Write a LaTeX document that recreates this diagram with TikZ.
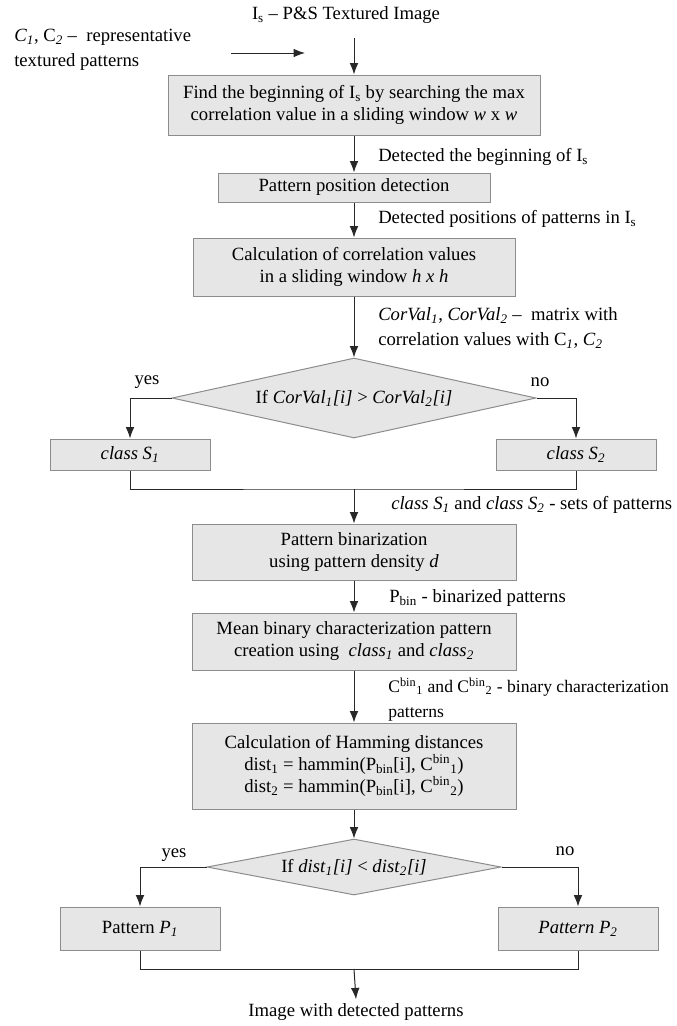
\documentclass[tikz,border=0pt]{standalone}
\usepackage{fontspec}
\setmainfont{Liberation Serif}
\usetikzlibrary{shapes.geometric,arrows.meta}
\definecolor{boxfill}{RGB}{230,230,230}
\definecolor{boxline}{RGB}{140,140,140}
\definecolor{connc}{RGB}{40,40,40}
\begin{document}
\begin{tikzpicture}[x=0.75pt,y=-0.75pt,
  every node/.style={font=\fontsize{14}{16.5}\selectfont, inner sep=0pt},
  proc/.style={draw=boxline, fill=boxfill, line width=0.75pt, align=center},
  dec/.style={diamond, draw=boxline, fill=boxfill, line width=0.75pt, aspect=4.5, align=center},
  lab/.style={anchor=west, align=left, font=\fontsize{14}{18.75}\selectfont},
  conn/.style={draw=connc, line width=0.75pt},
  arr/.style={conn, -{Latex[length=8.5pt,width=6.5pt]}}]
\useasboundingbox (0,0) rectangle (677,1026);

\node (title) at (346,15) {I\textsubscript{s} – P\&S Textured Image};
\node[lab] (ctext) at (14,49.5) {\textit{C}\textsubscript{\textit{1}}, C\textsubscript{\textit{2}} –~ representative\\textured patterns};
\coordinate (ca) at (231,53);
\coordinate (cb) at (305,53);
\draw[arr] (ca) -- (cb);

\node[proc, minimum width=279pt, minimum height=45pt] (b1) at (354,105) {Find the beginning of I\textsubscript{s} by searching the max\\correlation value in a sliding window \textit{w} x \textit{w}};
\coordinate (t0) at (354,38);
\draw[arr] (t0) -- (b1);

\node[proc, minimum width=204pt, minimum height=21.75pt] (b2) at (354,187.5) {Pattern position detection};
\node[lab] (l2) at (378,157) {Detected the beginning of I\textsubscript{s}};
\draw[arr] (b1) -- (b2);

\node[proc, minimum width=241.5pt, minimum height=43.5pt] (b3) at (354,267) {Calculation of correlation values\\in a sliding window \textit{h x h}};
\node[lab] (l3) at (378,219) {Detected positions of patterns in I\textsubscript{s}};
\draw[arr] (b2) -- (b3);

\node[dec, minimum width=273pt, minimum height=60pt] (d1) at (354,398) {If \textit{CorVal}\textsubscript{\textit{1}}\textit{[i]} > \textit{CorVal}\textsubscript{\textit{2}}\textit{[i]}};
\node[lab] (l4) at (378,328) {\textit{CorVal}\textsubscript{\textit{1}}, \textit{CorVal}\textsubscript{\textit{2}} –~ matrix with\\correlation values with C\textsubscript{\textit{1}}, \textit{C}\textsubscript{\textit{2}}};
\draw[arr] (b3) -- (d1);

\node (yes1) at (147,382) {yes};
\node (no1) at (540,382) {no};
\node[proc, minimum width=120pt, minimum height=23.25pt] (s1) at (130,454.5) {\textit{class S}\textsubscript{\textit{1}}};
\node[proc, minimum width=120pt, minimum height=23.25pt] (s2) at (576,454.5) {\textit{class S}\textsubscript{\textit{2}}};
\draw[arr] (d1.west) -| (s1.north);
\draw[arr] (d1.east) -| (s2.north);
\coordinate (m1) at (354,489);
\draw[conn] (s1.south) |- (m1) -| (s2.south);
\node[lab] (l5) at (391,505) {\textit{class S}\textsubscript{\textit{1}} and \textit{class S}\textsubscript{\textit{2}} - sets of patterns};

\node[proc, minimum width=243pt, minimum height=42pt] (bin) at (354,552) {Pattern binarization\\using pattern density \textit{d}};
\draw[arr] (m1) -- (bin);
\node[lab] (l6) at (389,598) {P\textsubscript{bin} - binarized patterns};

\node[proc, minimum width=243pt, minimum height=42.75pt] (mean) at (354,641.5) {Mean binary characterization pattern\\creation using~ \textit{class}\textsubscript{\textit{1}} and \textit{class}\textsubscript{\textit{2}}};
\draw[arr] (bin) -- (mean);
\node[lab, font=\fontsize{13.2}{18.75}\selectfont] (l7) at (388,699.5) {C\textsuperscript{bin}\textsubscript{1} and C\textsuperscript{bin}\textsubscript{2} - binary characterization\\patterns};

\node[proc, minimum width=243pt, minimum height=64.5pt] (ham) at (354,766) {Calculation of Hamming distances\\dist\textsubscript{1} = hammin(P\textsubscript{bin}[i], C\textsuperscript{bin}\textsubscript{1})\\dist\textsubscript{2} = hammin(P\textsubscript{bin}[i], C\textsuperscript{bin}\textsubscript{2})};
\draw[arr] (mean) -- (ham);

\node[dec, minimum width=220.5pt, minimum height=42pt] (d2) at (354,867) {If \textit{dist}\textsubscript{\textit{1}}\textit{[i]} < \textit{dist}\textsubscript{\textit{2}}\textit{[i]}};
\draw[arr] (ham) -- (d2);
\node (yes2) at (174,855) {yes};
\node (no2) at (565,851) {no};

\node[proc, minimum width=120pt, minimum height=32.25pt] (p1) at (140,928.5) {Pattern \textit{P}\textsubscript{\textit{1}}};
\node[proc, minimum width=120pt, minimum height=32.25pt] (p2) at (578,928.5) {\textit{Pattern P}\textsubscript{\textit{2}}};
\draw[arr] (d2.west) -| (p1.north);
\draw[arr] (d2.east) -| (p2.north);
\coordinate (m2) at (354,969);
\draw[conn] (p1.south) |- (m2) -| (p2.south);
\node[inner sep=3pt] (out) at (356,1012) {Image with detected patterns};
\draw[arr] (m2) -- (out.north);
\end{tikzpicture}
\end{document}
